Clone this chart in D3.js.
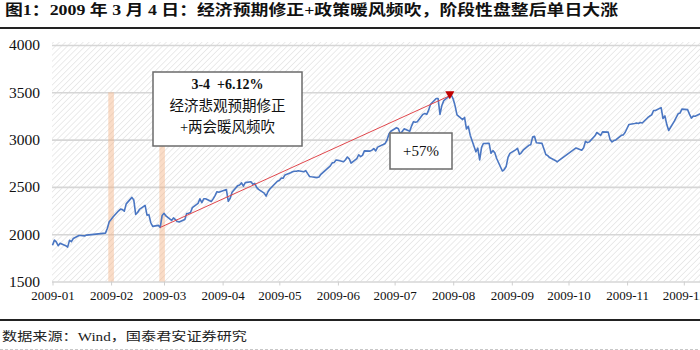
<!DOCTYPE html>
<html>
<head>
<meta charset="utf-8">
<script src="https://cdn.jsdelivr.net/npm/d3@7/dist/d3.min.js"></script>
<style>
  body { margin: 0; background: #fff; }
  svg { display: block; }
</style>
</head>
<body>
<svg id="chart" width="700" height="350"></svg>
<script>
// Shanghai Composite, daily close 2009, grouped by month
var monthLabels = ["2009-01","2009-02","2009-03","2009-04","2009-05","2009-06",
                   "2009-07","2009-08","2009-09","2009-10","2009-11","2009-12"];

var tradeDays = [
  [5,6,7,8,9,12,13,14,15,16,19,20,21,22,23],
  [2,3,4,5,6,9,10,11,12,13,16,17,18,19,20,23,24,25,26,27],
  [2,3,4,5,6,9,10,11,12,13,16,17,18,19,20,23,24,25,26,27,30,31],
  [1,2,3,7,8,9,10,13,14,15,16,17,20,21,22,23,24,27,28,29,30],
  [4,5,6,7,8,11,12,13,14,15,18,19,20,21,22,25,26,27],
  [1,2,3,4,5,8,9,10,11,12,15,16,17,18,19,22,23,24,25,26,29,30],
  [1,2,3,6,7,8,9,10,13,14,15,16,17,20,21,22,23,24,27,28,29,30,31],
  [3,4,5,6,7,10,11,12,13,14,17,18,19,20,21,24,25,26,27,28,31],
  [1,2,3,4,7,8,9,10,11,14,15,16,17,18,21,22,23,24,25,28,29,30],
  [9,12,13,14,15,16,19,20,21,22,23,26,27,28,29,30],
  [2,3,4,5,6,9,10,11,12,13,16,17,18,19,20,23,24,25,26,27,30],
  [1,2,3,4,7,8,9,10,11,14,15,16,17,18,21,22,23,24,25,28,29,30,31]
];

var closes = [
  [1882.96,1937.14,1918.59,1878.11,1904.86,1878.19,1863.37,1934.89,1920.85,1954.44,1986.25,1986.24,1983.18,1982.12,1990.66],
  [2011.68,2060.82,2131.80,2155.75,2181.24,2247.10,2265.16,2260.83,2243.44,2320.79,2389.39,2361.79,2209.86,2229.11,2261.48,2304.12,2200.65,2206.57,2121.02,2082.85],
  [2093.45,2071.43,2198.12,2221.08,2193.01,2145.37,2172.47,2153.29,2133.47,2128.85,2156.14,2218.43,2220.62,2229.13,2281.09,2325.48,2374.44,2334.14,2374.22,2374.44,2346.38,2373.21],
  [2408.02,2449.35,2444.23,2471.47,2347.42,2379.64,2444.23,2513.29,2520.21,2542.44,2507.35,2545.11,2554.01,2527.43,2536.54,2495.40,2474.13,2434.37,2402.99,2448.49,2477.57],
  [2559.91,2567.34,2592.26,2591.41,2626.78,2650.00,2660.00,2665.00,2665.00,2670.00,2660.00,2672.00,2640.00,2610.65,2606.47,2598.22,2605.00,2632.93],
  [2722.22,2754.33,2757.70,2784.68,2780.79,2765.26,2787.89,2816.25,2796.17,2751.37,2800.00,2840.00,2820.71,2833.19,2880.49,2878.16,2888.93,2905.67,2880.46,2920.34,2948.00,2959.36],
  [2995.83,3060.26,3088.44,3125.65,3114.37,3059.11,3085.88,3113.71,3087.73,3145.43,3189.73,3183.82,3189.73,3266.92,3276.50,3266.43,3311.50,3372.72,3435.16,3434.50,3266.43,3360.90,3412.06],
  [3462.57,3471.44,3428.25,3356.59,3260.69,3211.69,3234.24,3112.71,3140.53,3046.61,2870.63,2910.00,2785.58,2917.19,2959.36,2960.64,2855.27,2883.40,2860.00,2800.00,2667.74],
  [2683.72,2715.23,2812.22,2854.18,2891.61,2907.49,2844.17,2860.37,2887.77,2939.24,2944.72,3026.74,3035.00,2966.49,2960.00,2900.00,2842.00,2830.00,2810.00,2780.00,2764.00,2779.43],
  [2911.72,2887.00,2913.00,2982.00,2968.00,2976.00,3040.00,3075.00,3060.00,3045.00,3082.00,3079.00,3000.00,2975.00,2990.00,2995.85],
  [3045,3050,3078,3120,3160,3170,3175,3170,3180,3175,3234,3249,3261,3308,3307,3338,3223,3250,3159,3096,3195],
  [3235,3273,3280,3322,3317,3269,3227,3248,3247,3276,3253,3265,3167,3113,3115,3151,3113,3151,3153,3218,3236,3262,3277]
];

var yTicks = [1500, 2000, 2500, 3000, 3500, 4000];

// shaded event days and their top value
var markDates = ["2009-02-05", "2009-03-04"];
var markTop = 3500;

// the +57% arrow: from the 3-3 low to the 8-4 peak
var arrowDates = ["2009-03-03", "2009-08-04"];
var arrowValues = [2071.43, 3471.44];

var titleText = "图1：2009 年 3 月 4 日：经济预期修正+政策暖风频吹，阶段性盘整后单日大涨";
var noteLines = ["3-4  +6.12%", "经济悲观预期修正", "+两会暖风频吹"];
var gainText = "+57%";
var sourceText = "数据来源：Wind，国泰君安证券研究";

var parseDate = d3.timeParse("%Y-%m-%d");
var serif = "'Liberation Serif','Times New Roman','Noto Sans CJK SC',serif";
var cjk = "'Liberation Serif','Noto Sans CJK SC',sans-serif";

var svg = d3.select("#chart");
var W = 700, H = 350;
var plotLeft = 52, plotTop = 42, plotBottom = 281.5;

// flatten month groups into one series
var series = [];
tradeDays.forEach(function(days, m){
   days.forEach(function(day, i){
      series.push({date: new Date(2009, m, day), close: closes[m][i]});
   });
});

// ticks sit on the 5th of each month (first trading day of the data)
var tickDates = monthLabels.map(function(s){ return parseDate(s + "-05"); });

var x = d3.scaleTime()
   .domain([tickDates[0], tickDates[tickDates.length - 1]])
   .range([52.5, 683.8]);

var y = d3.scaleLinear()
   .domain([1500, 4000])
   .range([plotBottom, 45]);

// hatched plot background
var defs = svg.append("defs");
var pat = defs.append("pattern")
   .attr("id", "hatch")
   .attr("patternUnits", "userSpaceOnUse")
   .attr("width", 4.2).attr("height", 4.2)
   .attr("patternTransform", "rotate(45)");
pat.append("rect").attr("width", 4.2).attr("height", 4.2).attr("fill", "#fff");
pat.append("line")
   .attr("x1", 0).attr("y1", 0).attr("x2", 0).attr("y2", 4.2)
   .attr("stroke", "#dedede").attr("stroke-width", 1.2);

svg.append("rect")
   .attr("x", plotLeft).attr("y", plotTop)
   .attr("width", W - plotLeft).attr("height", plotBottom - plotTop)
   .attr("fill", "url(#hatch)");

// y grid + labels
var yAxis = svg.append("g")
   .attr("transform", "translate(" + plotLeft + ",0)")
   .call(d3.axisLeft(y).tickValues(yTicks).tickSize(-(W - plotLeft)).tickPadding(12).tickFormat(d3.format("d")));
yAxis.select(".domain").remove();
yAxis.selectAll(".tick line").attr("stroke", "#d6d6d6").attr("stroke-width", 1.6);
yAxis.selectAll(".tick text")
   .attr("fill", "#111").style("font-family", serif).style("font-size", "15.5px");

// x axis with month ticks
var xAxis = svg.append("g")
   .attr("transform", "translate(0," + plotBottom + ")")
   .call(d3.axisBottom(x).tickValues(tickDates).tickSize(4).tickPadding(5)
      .tickFormat(function(d, i){ return monthLabels[i]; }));
xAxis.select(".domain").remove();
xAxis.selectAll(".tick line").attr("stroke", "#cfcfcf").attr("stroke-width", 1);
xAxis.selectAll(".tick text")
   .attr("fill", "#111").style("font-family", serif).style("font-size", "13px");

// shaded event columns
svg.selectAll("rect.mark")
   .data(markDates)
   .enter()
   .append("rect")
   .attr("class", "mark")
   .attr("x", function(d){ return x(parseDate(d)) - 2.8; })
   .attr("y", y(markTop))
   .attr("width", 5.6)
   .attr("height", function(){ return y(1500) - y(markTop); })
   .attr("fill", "#f4b183")
   .attr("fill-opacity", 0.45);

// index line
svg.append("path")
   .datum(series)
   .attr("fill", "none")
   .attr("stroke", "#4a76c2")
   .attr("stroke-width", 1.6)
   .attr("stroke-linejoin", "round")
   .attr("d", d3.line()
      .x(function(d){ return x(d.date); })
      .y(function(d){ return y(d.close); }));

// red arrow from low to peak
var arrowPts = arrowDates.map(function(d, i){ return [x(parseDate(d)), y(arrowValues[i])]; });
svg.append("line")
   .attr("x1", arrowPts[0][0]).attr("y1", arrowPts[0][1])
   .attr("x2", arrowPts[1][0]).attr("y2", arrowPts[1][1])
   .attr("stroke", "#e0474c").attr("stroke-width", 1);
svg.append("path")
   .attr("d", d3.symbol().type(d3.symbolTriangle).size(36))
   .attr("transform", "translate(" + (arrowPts[1][0] - 1.5) + "," + (arrowPts[1][1] - 1) + ") rotate(180)")
   .attr("fill", "#c00000");

// note box for 3-4
svg.append("rect")
   .attr("x", 153).attr("y", 72).attr("width", 149).attr("height", 74)
   .attr("fill", "#fff").attr("stroke", "#6b6b6b").attr("stroke-width", 1.5);
svg.selectAll("text.note")
   .data(noteLines)
   .enter()
   .append("text")
   .attr("class", "note")
   .attr("x", 227.5)
   .attr("y", function(d, i){ return 89 + i * 21.5; })
   .attr("text-anchor", "middle")
   .style("white-space", "pre")
   .style("font-family", function(d, i){ return i == 0 ? serif : cjk; })
   .style("font-weight", function(d, i){ return i == 0 ? "bold" : "normal"; })
   .style("font-size", function(d, i){ return i == 0 ? "14px" : "14.5px"; })
   .attr("fill", "#111")
   .text(function(d){ return d; });

// +57% box
svg.append("rect")
   .attr("x", 390).attr("y", 133).attr("width", 62).attr("height", 36)
   .attr("fill", "#fff").attr("stroke", "#6b6b6b").attr("stroke-width", 1.5);
svg.append("text")
   .attr("x", 421).attr("y", 156)
   .attr("text-anchor", "middle")
   .style("font-family", serif).style("font-size", "15px")
   .attr("fill", "#111")
   .text(gainText);

// title and rules
svg.append("text")
   .attr("x", 5).attr("y", 14.5)
   .attr("textLength", 613).attr("lengthAdjust", "spacingAndGlyphs")
   .style("font-family", cjk).style("font-weight", "bold").style("font-size", "14.5px")
   .attr("fill", "#111")
   .text(titleText);
svg.append("line")
   .attr("x1", 0).attr("x2", W).attr("y1", 28).attr("y2", 28)
   .attr("stroke", "#222").attr("stroke-width", 2);
svg.append("line")
   .attr("x1", 0).attr("x2", W).attr("y1", 320).attr("y2", 320)
   .attr("stroke", "#222").attr("stroke-width", 2);
svg.append("text")
   .attr("x", 2).attr("y", 340.5)
   .attr("textLength", 245).attr("lengthAdjust", "spacingAndGlyphs")
   .style("font-family", cjk).style("font-size", "12.5px")
   .attr("fill", "#222")
   .text(sourceText);
svg.append("line")
   .attr("x1", 0).attr("x2", W).attr("y1", 349.5).attr("y2", 349.5)
   .attr("stroke", "#c8c8c8").attr("stroke-width", 1).attr("stroke-dasharray", "3,2");
</script>
</body>
</html>
